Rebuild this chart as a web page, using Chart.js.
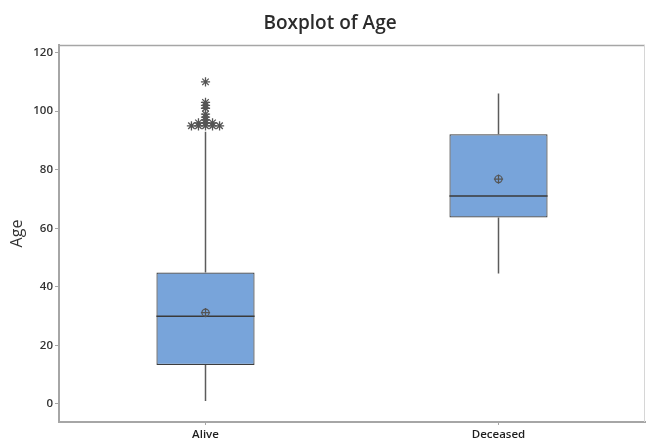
<!DOCTYPE html>
<html>
<head>
<meta charset="utf-8">
<script src="https://cdn.jsdelivr.net/npm/chart.js@4/dist/chart.umd.min.js"></script>
<style>
  html, body { margin: 0; padding: 0; background: #fff; }
  #wrap { width: 646px; height: 440px; position: relative; }
</style>
</head>
<body>
<div id="wrap"><canvas id="c"></canvas></div>
<script>
// Age summaries per outcome group
const chartTitle = 'Boxplot of Age';
const groups = ['Alive', 'Deceased'];
const q1 = [13.3, 63.7];
const q3 = [44.9, 92.1];
const medians = [30, 71];
const means = [31.2, 76.8];
const whiskerLow = [1, 44.6];
const whiskerHigh = [93, 106];
const aliveOutliers = [110, 103, 102, 101, 99, 98, 97, 96, 96, 96, 95, 95, 95, 95, 95];
const yTicks = [0, 20, 40, 60, 80, 100, 120];

// Repeated outlier values sit side by side
const DUP_STEP = 0.024;
function spreadOutliers(values, groupIndex) {
  const counts = {};
  values.forEach(v => { counts[v] = (counts[v] || 0) + 1; });
  const seen = {};
  return values.map(v => {
    const k = seen[v] || 0;
    seen[v] = k + 1;
    return { x: groupIndex + (k - (counts[v] - 1) / 2) * DUP_STEP, y: v };
  });
}

const boxParts = {
  id: 'boxParts',
  afterDatasetDraw(chart, args) {
    if (args.index !== 0) return;
    const ctx = chart.ctx;
    const y = chart.scales.y;
    const bars = chart.getDatasetMeta(0).data;
    ctx.save();
    // whiskers
    ctx.strokeStyle = '#5c5c5c';
    ctx.lineWidth = 1.5;
    bars.forEach((bar, i) => {
      ctx.beginPath();
      ctx.moveTo(bar.x, y.getPixelForValue(q3[i]));
      ctx.lineTo(bar.x, y.getPixelForValue(whiskerHigh[i]));
      ctx.moveTo(bar.x, y.getPixelForValue(q1[i]));
      ctx.lineTo(bar.x, y.getPixelForValue(whiskerLow[i]));
      ctx.stroke();
    });
    // medians
    ctx.strokeStyle = '#3a3a3a';
    ctx.lineWidth = 1.5;
    bars.forEach((bar, i) => {
      const py = y.getPixelForValue(medians[i]);
      ctx.beginPath();
      ctx.moveTo(bar.x - bar.width / 2, py);
      ctx.lineTo(bar.x + bar.width / 2, py);
      ctx.stroke();
    });
    ctx.restore();
  },
  afterDraw(chart) {
    const { ctx, chartArea: a } = chart;
    ctx.save();
    // frame: top and right edges
    ctx.lineWidth = 1.5;
    ctx.strokeStyle = '#a6a6a6';
    ctx.beginPath();
    ctx.moveTo(a.left, a.top + 0.5);
    ctx.lineTo(a.right, a.top + 0.5);
    ctx.stroke();
    ctx.lineWidth = 1;
    ctx.strokeStyle = '#d6d6d6';
    ctx.beginPath();
    ctx.moveTo(a.right - 0.5, a.top);
    ctx.lineTo(a.right - 0.5, a.bottom);
    ctx.stroke();
    // heading
    ctx.fillStyle = '#2b2b2b';
    ctx.font = '600 19px "Open Sans"';
    ctx.textAlign = 'center';
    ctx.textBaseline = 'alphabetic';
    ctx.fillText(chartTitle, chart.width / 2 + 7, 29);
    ctx.restore();
  }
};

const markerColor = '#555555';

new Chart(document.getElementById('c'), {
  type: 'bar',
  data: {
    datasets: [
      {
        type: 'bar',
        data: groups.map((g, i) => ({ x: i, y: [q1[i], q3[i]] })),
        backgroundColor: '#78a4da',
        borderColor: '#3d3d3d',
        borderWidth: 1.2,
        borderSkipped: false,
        grouped: false,
        categoryPercentage: 1,
        barPercentage: 0.335,
        order: 3
      },
      {
        type: 'scatter',
        data: means.map((m, i) => ({ x: i, y: m })),
        pointStyle: 'circle',
        pointRadius: 3.6,
        backgroundColor: 'rgba(0,0,0,0)',
        borderColor: markerColor,
        borderWidth: 1.2,
        order: 2
      },
      {
        type: 'scatter',
        data: means.map((m, i) => ({ x: i, y: m })),
        pointStyle: 'cross',
        pointRadius: 4.6,
        borderColor: markerColor,
        borderWidth: 1.2,
        order: 1
      },
      {
        type: 'scatter',
        data: spreadOutliers(aliveOutliers, 0),
        pointStyle: 'star',
        pointRadius: 4.6,
        borderColor: markerColor,
        backgroundColor: markerColor,
        borderWidth: 1.3,
        order: 0
      }
    ]
  },
  options: {
    responsive: true,
    maintainAspectRatio: false,
    animation: false,
    events: [],
    layout: { autoPadding: false, padding: { left: 0, right: 1, top: 45, bottom: 0 } },
    plugins: {
      legend: { display: false },
      tooltip: { enabled: false },
      title: { display: false }
    },
    scales: {
      x: {
        type: 'linear',
        min: -0.5,
        max: 1.5,
        offset: false,
        afterBuildTicks(s) { s.ticks = groups.map((g, i) => ({ value: i })); },
        grid: { display: true, drawOnChartArea: false, offset: false, tickLength: 3, color: '#a6a6a6' },
        border: { color: '#a6a6a6', width: 2 },
        ticks: {
          color: '#1e1e1e',
          padding: 3,
          autoSkip: false,
          maxRotation: 0,
          callback: v => groups[v],
          font: { family: 'Open Sans', size: 11.5, weight: '600' }
        },
        afterFit(s) {
          s.height = 18;
          s.paddingLeft = 0;
          s.paddingRight = 0;
        }
      },
      y: {
        min: -6.15,
        max: 122.6,
        afterBuildTicks(s) { s.ticks = yTicks.map(v => ({ value: v })); },
        grid: { display: true, drawOnChartArea: false, tickLength: 4, color: '#a6a6a6' },
        border: { color: '#a6a6a6', width: 2 },
        ticks: {
          color: '#333333',
          padding: 2,
          font: { family: 'Open Sans', size: 11.5, weight: '600' }
        },
        title: {
          display: true,
          text: 'Age',
          color: '#333333',
          font: { family: 'Open Sans', size: 16 },
          padding: { top: 8, bottom: 0 }
        },
        afterFit(s) {
          s.width = 59;
          s.paddingTop = 0;
          s.paddingBottom = 0;
        }
      }
    }
  },
  plugins: [boxParts]
});
</script>
</body>
</html>
